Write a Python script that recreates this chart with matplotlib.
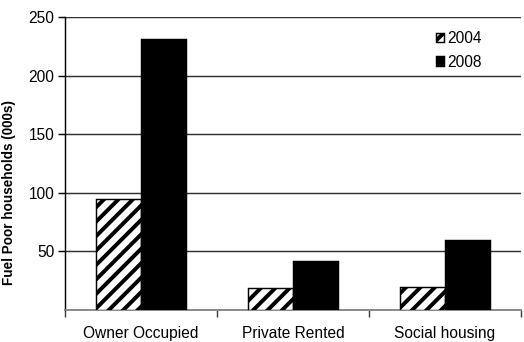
import numpy as np
import matplotlib
matplotlib.use("Agg")
import matplotlib.pyplot as plt
from matplotlib.ticker import FixedLocator

plt.rcParams['font.family'] = ['Liberation Sans', 'DejaVu Sans']
plt.rcParams['hatch.linewidth'] = 2.2

# data
categories = ["Owner Occupied", "Private Rented", "Social housing"]
years = ["2004", "2008"]
values_2004 = [95, 19, 20]
values_2008 = [231, 42, 60]
y_ticks = [50, 100, 150, 200, 250]

DPI = 130
fig = plt.figure(figsize=(524 / DPI, 342 / DPI), dpi=DPI)
ax = fig.add_axes([65 / 524, 1 - 310 / 342, 456 / 524, 293 / 342])

x = np.arange(len(categories))
w = 0.293
ax.bar(x - w / 2, values_2004, w, color='white', edgecolor='black',
       hatch='///', linewidth=0.8, label=years[0], zorder=3)
ax.bar(x + w / 2, values_2008, w, color='black', edgecolor='black',
       linewidth=0.8, label=years[1], zorder=3)

ax.set_xlim(-0.5, len(categories) - 0.5)
ax.set_ylim(0, 250)

# gridlines
for v in y_ticks:
    ax.axhline(v, color='#303030', linewidth=0.8, zorder=1)

ax.set_yticks(y_ticks)
ax.tick_params(axis='y', direction='out', length=4, width=0.8,
               labelsize=8.6, pad=2)
ax.set_xticks(x)
ax.set_xticklabels(categories)
ax.tick_params(axis='x', which='major', length=0, labelsize=8.6, pad=9)
ax.xaxis.set_minor_locator(FixedLocator(np.arange(-0.5, len(categories), 1.0)))
ax.tick_params(axis='x', which='minor', direction='out', length=4,
               width=0.8, color='#404040')

for s in ['top', 'right']:
    ax.spines[s].set_visible(False)
ax.spines['left'].set_color('black')
ax.spines['left'].set_linewidth(0.8)
ax.spines['bottom'].set_color('#808080')
ax.spines['bottom'].set_linewidth(1.0)

ax.set_ylabel("Fuel Poor households (000s)", fontsize=7.5, fontweight='bold')
ax.yaxis.set_label_coords(-0.107, 0.40)

leg = ax.legend(loc='upper right', bbox_to_anchor=(0.945, 1.0), frameon=False,
                fontsize=8.6, handlelength=0.55, handleheight=0.55,
                handletextpad=0.2, labelspacing=0.55)

fig.savefig("out.png", dpi=DPI)
